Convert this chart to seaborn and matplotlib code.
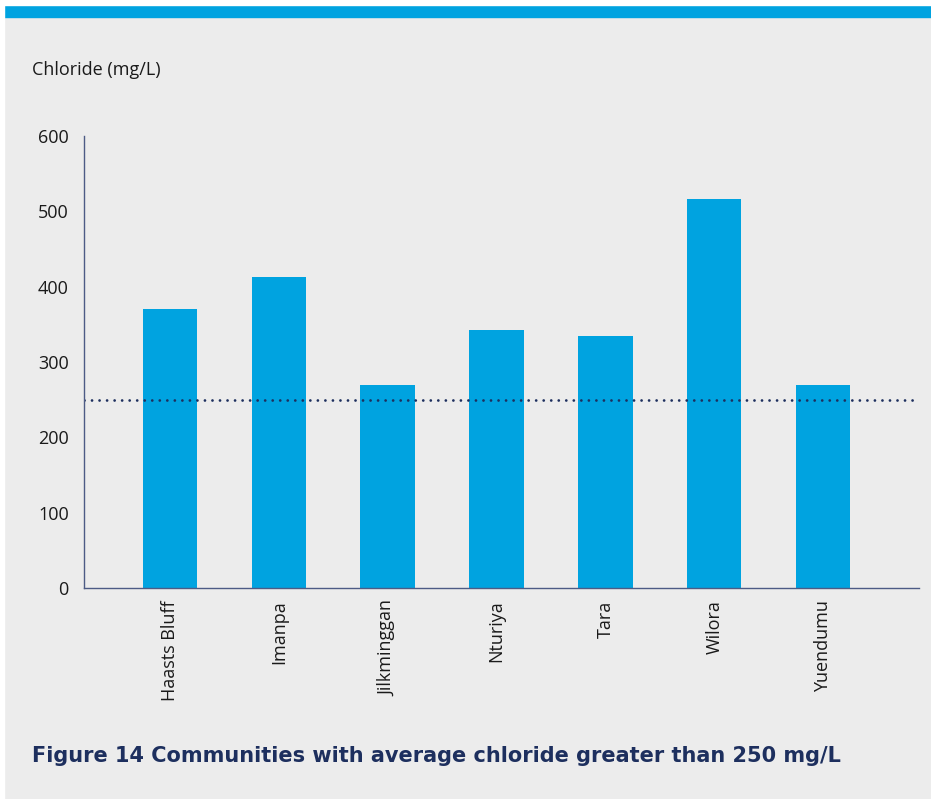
import seaborn as sns
import matplotlib.pyplot as plt
import matplotlib.patches as mpatches
import pandas as pd

communities = ['Haasts Bluff', 'Imanpa', 'Jilkminggan', 'Nturiya', 'Tara', 'Wilora', 'Yuendumu']
chloride = [370, 413, 269, 342, 334, 516, 269]
guideline = 250
y_ticks = [0, 100, 200, 300, 400, 500, 600]

df = pd.DataFrame({'community': communities, 'chloride': chloride})

sns.set_style('white')
plt.rcParams['font.family'] = ['Open Sans', 'DejaVu Sans']

bg = '#ececec'
bar_color = '#00a3e0'
navy = '#1d2f5e'

fig = plt.figure(figsize=(9.31, 7.99), dpi=100, facecolor=bg)
ax = fig.add_axes([0.0902, 0.2641, 0.8968, 0.5657])
ax.set_facecolor(bg)

sns.barplot(data=df, x='community', y='chloride', color=bar_color,
            width=0.5, saturation=1, linewidth=0, ax=ax)

ax.axhline(guideline, color=navy, lw=2.0, linestyle=(0, (0.01, 2.7)),
           dash_capstyle='round')

ax.set_ylim(0, 600)
ax.set_xlim(-0.79, 6.88)
ax.set_yticks(y_ticks)
ax.tick_params(axis='both', length=0, labelsize=13, colors='#1a1a1a')
ax.tick_params(axis='y', pad=11)
ax.tick_params(axis='x', pad=9)
plt.setp(ax.get_xticklabels(), rotation=90)
ax.set_xlabel('')
ax.set_ylabel('')

for side in ['top', 'right']:
    ax.spines[side].set_visible(False)
for side in ['left', 'bottom']:
    ax.spines[side].set_color('#4d5b85')
    ax.spines[side].set_linewidth(1.0)

# top band
fig.patches.append(mpatches.Rectangle((4 / 931, 1 - 17 / 799), 1, 12 / 799,
                                      transform=fig.transFigure, color=bar_color, zorder=0))
fig.patches.append(mpatches.Rectangle((0, 0), 4 / 931, 1,
                                      transform=fig.transFigure, color='white', zorder=0))
fig.patches.append(mpatches.Rectangle((0, 1 - 5 / 799), 1, 5 / 799,
                                      transform=fig.transFigure, color='white', zorder=0))

fig.text(32 / 931, 1 - 70 / 799, 'Chloride (mg/L)', fontsize=13, color='#1a1a1a',
         va='center', ha='left')
fig.text(32 / 931, 1 - 756 / 799, 'Figure 14 Communities with average chloride greater than 250 mg/L',
         fontsize=15, fontweight='bold', family='DejaVu Sans', color=navy,
         va='center', ha='left')

fig.savefig('out.png', dpi=100, facecolor=bg)
